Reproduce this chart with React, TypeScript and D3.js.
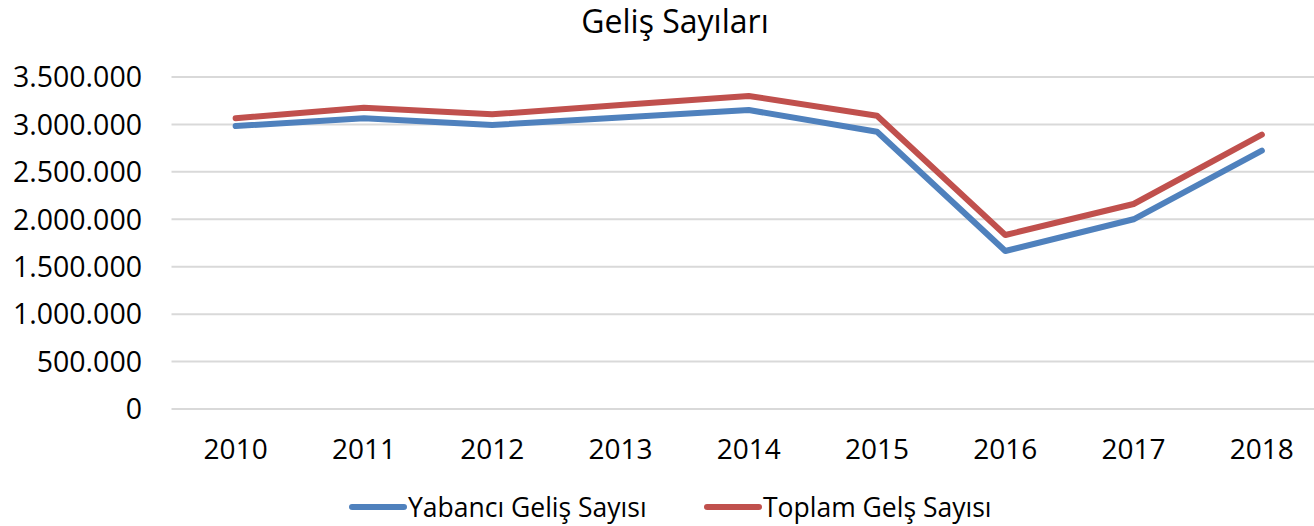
import * as d3 from "d3";
import { useEffect, useRef } from "react";

// years on the x axis
const years = ["2010", "2011", "2012", "2013", "2014", "2015", "2016", "2017", "2018"];
// Yabancı Geliş Sayısı
const yabanci = [2983000, 3065000, 2994000, 3073000, 3152000, 2923000, 1666000, 2000000, 2723000];
// Toplam Gelş Sayısı
const toplam = [3065000, 3176000, 3107000, 3205000, 3300000, 3092000, 1834000, 2161000, 2892000];
const yTicks = [0, 500000, 1000000, 1500000, 2000000, 2500000, 3000000, 3500000];

const seriesNames = ["Yabancı Geliş Sayısı", "Toplam Gelş Sayısı"];
const colors = ["#4F81BD", "#C0504D"];

export default function App() {
  const ref = useRef<SVGSVGElement | null>(null);

  useEffect(() => {
    const svg = d3.select(ref.current);
    svg.selectAll("*").remove();

    const W = 1314;
    const font = "'Open Sans', 'Noto Sans', sans-serif";

    // x as band, lines go through band centres
    const x = d3.scaleBand().domain(years).range([171.5, 1326]);
    const y = d3.scaleLinear().domain([0, 3500000]).range([409, 77]);

    // title
    svg.append("text")
      .attr("x", 675)
      .attr("y", 33)
      .attr("text-anchor", "middle")
      .attr("font-family", font)
      .attr("font-size", 32)
      .attr("fill", "#000")
      .text("Geliş Sayıları");

    // gridlines
    svg.append("g")
      .selectAll("line")
      .data(yTicks)
      .enter().append("line")
      .attr("x1", 171.5)
      .attr("x2", W)
      .attr("y1", (d) => y(d))
      .attr("y2", (d) => y(d))
      .attr("stroke", "#D9D9D9")
      .attr("stroke-width", 2);

    // y labels
    const fmt = (v: number) => d3.format(",")(v).replace(/,/g, ".");
    svg.append("g")
      .selectAll("text")
      .data(yTicks)
      .enter().append("text")
      .attr("x", 142)
      .attr("y", (d) => y(d))
      .attr("dy", "0.36em")
      .attr("text-anchor", "end")
      .attr("font-family", font)
      .attr("font-size", 28.5)
      .attr("fill", "#000")
      .text((d) => fmt(d));

    // x labels
    svg.append("g")
      .selectAll("text")
      .data(years)
      .enter().append("text")
      .attr("x", (d) => (x(d) as number) + x.bandwidth() / 2)
      .attr("y", 459)
      .attr("text-anchor", "middle")
      .attr("font-family", font)
      .attr("font-size", 28)
      .attr("fill", "#000")
      .text((d) => d);

    // lines
    const line = d3.line<number>()
      .x((d, i) => (x(years[i]) as number) + x.bandwidth() / 2)
      .y((d) => y(d));

    [yabanci, toplam].forEach((s, i) => {
      svg.append("path")
        .datum(s)
        .attr("fill", "none")
        .attr("stroke", colors[i])
        .attr("stroke-width", 6)
        .attr("stroke-linejoin", "round")
        .attr("stroke-linecap", "round")
        .attr("d", line);
    });

    // legend (kept just inside the bottom edge)
    const legendX = [352, 707];
    seriesNames.forEach((name, i) => {
      const g = svg.append("g").attr("transform", `translate(${legendX[i]},507)`);
      g.append("line")
        .attr("x1", 0)
        .attr("x2", 52)
        .attr("y1", 0)
        .attr("y2", 0)
        .attr("stroke", colors[i])
        .attr("stroke-width", 6)
        .attr("stroke-linecap", "round");
      g.append("text")
        .attr("x", 56)
        .attr("y", 0)
        .attr("dy", "0.36em")
        .attr("font-family", font)
        .attr("font-size", 26.5)
        .attr("fill", "#000")
        .text(name);
    });
  }, []);

  return (
    <div style={{ position: "absolute", left: 0, top: 0 }}>
      <svg ref={ref} width={1314} height={526} style={{ display: "block", background: "#fff" }}></svg>
    </div>
  );
}
